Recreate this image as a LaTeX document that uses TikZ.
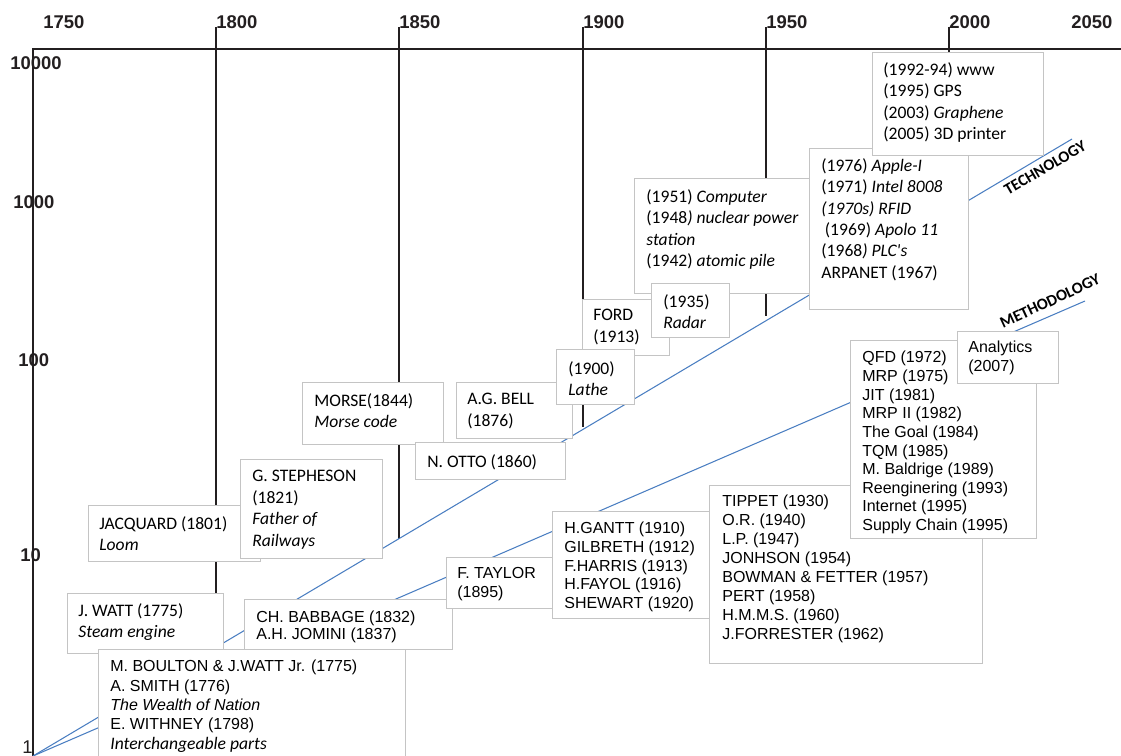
\documentclass[tikz,border=0pt]{standalone}
\usepackage{fontspec}
\setmainfont{Carlito}
\newfontfamily\arialfont{Liberation Sans}
\newfontfamily\califont{Carlito}
\usetikzlibrary{positioning}

\definecolor{axisblack}{RGB}{35,31,32}
\definecolor{boxgray}{RGB}{196,196,196}
\definecolor{trendblue}{RGB}{74,126,193}

% box drawn from its top left (x1,y1) to its bottom right (x2,y2), in pixels
\newcommand{\evbox}[5]{\node[box, minimum width={(#4-#2)*0.02cm}, minimum height={(#5-#3)*0.02cm}] (#1) at (#2,#3) {};}

\tikzset{
  box/.style={draw=boxgray, fill=white, line width=0.57pt, inner sep=0pt, anchor=north west},
  boxtext/.style={align=left, inner sep=0pt, anchor=north west, execute at begin node={\rule{0pt}{0.32cm}}},
  cal/.style={boxtext, yshift=-0.06cm, font=\califont\fontsize{10}{12.2}\selectfont},
  ari/.style={boxtext, yshift=-0.1cm, font=\arialfont\fontsize{9.1}{10.6}\selectfont},
  axis/.style={draw=axisblack, line width=1pt},
  yearlbl/.style={font=\arialfont\bfseries\fontsize{10.5}{12}\selectfont, text=axisblack, inner sep=0pt, anchor=west},
  trend/.style={draw=trendblue, line width=0.6pt},
  trendlbl/.style={font=\califont\bfseries\fontsize{9.2}{11}\selectfont, inner sep=0pt}
}

\begin{document}
\begin{tikzpicture}[x=0.02cm, y=-0.02cm]
  \useasboundingbox (0,0) rectangle (1121,756);

  % scale labels
  \node[yearlbl] (y1750) at (43,22) {1750};
  \node[yearlbl] (y2050) at (1071,22) {2050};
  \foreach \v/\px/\py in {10000/10/63, 1000/13/202, 100/18/360, 10/20/555}
    \node[yearlbl] (v\v) at (\px,\py) {\v};
  \node[yearlbl, font=\arialfont\fontsize{10.5}{12}\selectfont] (v1) at (22,747) {1};

  % axes and year lines
  \coordinate (o) at (33,756);
  \coordinate (top) at (33,49);
  \draw[axis] (o) -- (top) -- (1121,49);
  \foreach \yr/\px/\py in {1800/216/600, 1850/399/539, 1900/583/427, 1950/766/316, 2000/949/52} {
    \node[yearlbl] (y\yr) at (\px,22) {\yr};
    \draw[axis] (\px,27) -- (\px,\py);
  }

  % trend lines
  \coordinate (techend) at (1072,139);
  \coordinate (methend) at (1085,301);
  \draw[trend] (o) -- (techend);
  \draw[trend] (o) -- (methend);
  \node[trendlbl, rotate=30.5] (techlbl) at (1045,168) {TECHNOLOGY};
  \node[trendlbl, rotate=25] (methlbl) at (1050,301) {METHODOLOGY};

  % lower left
  \evbox{jacquard}{88}{505}{260}{561}
  \node[cal] (jacquardtxt) at ([shift={(11,8)}]jacquard.north west) {JACQUARD (1801)\\\textit{Loom}};
  \evbox{stepheson}{240}{459}{382}{558}
  \node[cal] (stephesontxt) at ([shift={(12,8)}]stepheson.north west) {G. STEPHESON\\(1821)\\\textit{Father of}\\\textit{Railways}};
  \evbox{watt}{67}{593}{223}{653}
  \node[cal] (watttxt) at ([shift={(11,7)}]watt.north west) {J. WATT (1775)\\\textit{Steam engine}};
  \evbox{babbage}{244}{599}{452}{649}
  \node[ari] (babbagetxt) at ([shift={(12,7)}]babbage.north west) {CH. BABBAGE (1832)\\[-1pt]A.H. JOMINI (1837)};
  \evbox{boulton}{98}{649}{405}{770}
  \node[ari, font=\arialfont\fontsize{9.1}{11}\selectfont] (boultontxt) at ([shift={(12,6)}]boulton.north west)
    {M. BOULTON \& J.WATT Jr. (1775)\\A. SMITH (1776)\\\textit{The Wealth of Nation}\\E. WITHNEY (1798)\\{\califont\fontsize{10}{12}\selectfont\itshape Interchangeable parts}};

  % methodology boxes
  \evbox{taylor}{446}{557}{552}{608}
  \node[ari] (taylortxt) at ([shift={(11,5)}]taylor.north west) {F. TAYLOR\\(1895)};
  \evbox{gantt}{552}{511}{709}{618}
  \node[ari] (gantttxt) at ([shift={(12,6)}]gantt.north west) {H.GANTT (1910)\\GILBRETH (1912)\\F.HARRIS (1913)\\H.FAYOL (1916)\\SHEWART (1920)};
  \evbox{tippet}{709}{485}{982}{663}
  \node[ari, font=\arialfont\fontsize{9.1}{10.8}\selectfont] (tippettxt) at ([shift={(13,5)}]tippet.north west)
    {TIPPET (1930)\\O.R. (1940)\\L.P. (1947)\\JONHSON (1954)\\BOWMAN \& FETTER (1957)\\PERT (1958)\\H.M.M.S. (1960)\\J.FORRESTER (1962)};
  \evbox{qfd}{850}{340}{1036}{538}
  \node[ari, font=\arialfont\fontsize{9.1}{10.6}\selectfont] (qfdtxt) at ([shift={(12,6)}]qfd.north west)
    {QFD (1972)\\MRP (1975)\\JIT (1981)\\MRP II (1982)\\The Goal (1984)\\TQM (1985)\\M. Baldrige (1989)\\Reenginering (1993)\\Internet (1995)\\Supply Chain (1995)};
  \evbox{analytics}{957}{331}{1058}{383}
  \node[ari, font=\arialfont\fontsize{9.1}{10.8}\selectfont] (analyticstxt) at ([shift={(11,5)}]analytics.north west) {Analytics\\(2007)};

  % technology boxes
  \evbox{morse}{302}{382}{443}{444}
  \node[cal] (morsetxt) at ([shift={(12,8)}]morse.north west) {MORSE(1844)\\\textit{Morse code}};
  \evbox{otto}{415}{442}{565}{479}
  \node[cal] (ottotxt) at ([shift={(12,6)}]otto.north west) {N. OTTO (1860)};
  \evbox{bell}{456}{382}{572}{438}
  \node[cal] (belltxt) at ([shift={(11,8)}]bell.north west) {A.G. BELL\\(1876)};
  \evbox{ford}{582}{299}{669}{355}
  \node[cal] (fordtxt) at ([shift={(11,7)}]ford.north west) {FORD\\(1913)};
  \evbox{lathe}{556}{349}{634}{404}
  \node[cal] (lathetxt) at ([shift={(12,9)}]lathe.north west) {(1900)\\\textit{Lathe}};
  \evbox{computer}{634}{178}{812}{293}
  \node[cal] (computertxt) at ([shift={(12,8)}]computer.north west)
    {(1951) \textit{Computer}\\(1948\textit{) nuclear power}\\\textit{station}\\(1942) \textit{atomic pile}};
  \evbox{radar}{651}{283}{729}{337}
  \node[cal] (radartxt) at ([shift={(12,8)}]radar.north west) {(1935)\\\textit{Radar}};
  \evbox{apple}{809}{148}{968}{309}
  \node[cal] (appletxt) at ([shift={(12,7)}]apple.north west)
    {(1976) \textit{Apple-I}\\(1971) \textit{Intel 8008}\\\textit{(1970s) RFID}\\\hspace{2pt}(1969) \textit{Apolo 11}\\(1968\textit{) PLC's}\\ARPANET (1967)};
  \evbox{www}{872}{52}{1043}{155}
  \node[cal] (wwwtxt) at ([shift={(11,7)}]www.north west)
    {(1992-94) www\\(1995) GPS\\(2003) \textit{Graphene}\\(2005) 3D printer};
\end{tikzpicture}
\end{document}
